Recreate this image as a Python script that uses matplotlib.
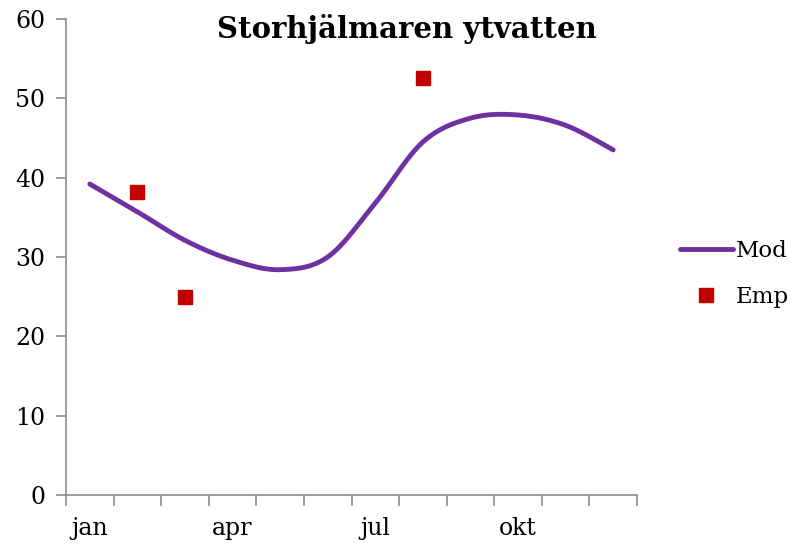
import numpy as np
import matplotlib
matplotlib.use("Agg")
import matplotlib.pyplot as plt
from matplotlib.lines import Line2D

months = ["jan", "feb", "mar", "apr", "maj", "jun", "jul", "aug", "sep", "okt", "nov", "dec"]
mod_values = [39.2, 35.7, 32.1, 29.6, 28.4, 30.0, 36.8, 44.5, 47.5, 47.9, 46.6, 43.5]
emp_months = ["feb", "mar", "aug"]
emp_values = [38.2, 25.0, 52.6]
label_months = ["jan", "apr", "jul", "okt"]
title = "Storhjälmaren ytvatten"

FONT = "DejaVu Serif"
plt.rcParams["font.family"] = FONT

def smooth(xs, ys, n=30):
    xs = np.asarray(xs, float); ys = np.asarray(ys, float)
    P = np.column_stack([xs, ys])
    out = []
    for i in range(len(P) - 1):
        p0 = P[i - 1] if i > 0 else P[i]
        p1 = P[i]; p2 = P[i + 1]
        p3 = P[i + 2] if i + 2 < len(P) else P[i + 1]
        c1 = p1 + (p2 - p0) / 6.0
        c2 = p2 - (p3 - p1) / 6.0
        t = np.linspace(0, 1, n)[:, None]
        seg = (1 - t) ** 3 * p1 + 3 * (1 - t) ** 2 * t * c1 + 3 * (1 - t) * t ** 2 * c2 + t ** 3 * p2
        out.append(seg if i == 0 else seg[1:])
    S = np.vstack(out)
    return S[:, 0], S[:, 1]

fig = plt.figure(figsize=(7.97, 5.49), dpi=100)
ax = fig.add_axes([66 / 797, 1 - 495 / 549, (637 - 66) / 797, (495 - 19) / 549])

x = np.arange(len(months))
sx, sy = smooth(x, mod_values)
ax.plot(sx, sy, color="#7030A0", lw=3.5, solid_capstyle="round")
ex = [months.index(m) for m in emp_months]
ax.plot(ex, emp_values, ls="none", marker="s", ms=9.5, color="#C00000")

ax.set_xlim(-0.5, len(months) - 0.5)
ax.set_ylim(0, 60)
ax.set_yticks(np.arange(0, 61, 10))
ax.set_xticks(np.arange(-0.5, len(months), 1.0))
ax.set_xticklabels([])
ax.set_xticks([months.index(m) for m in label_months], minor=True)
ax.set_xticklabels(label_months, minor=True)
ax.tick_params(axis="x", which="major", length=8, color="#8c8c8c", width=1.2)
ax.tick_params(axis="x", which="minor", length=0, labelsize=17, pad=16)
ax.tick_params(axis="y", length=7, color="#8c8c8c", width=1.2, labelsize=17, pad=8)

for s in ["top", "right"]:
    ax.spines[s].set_visible(False)
for s in ["left", "bottom"]:
    ax.spines[s].set_color("#8c8c8c")
    ax.spines[s].set_linewidth(1.2)

fig.text(407 / 797, 1 - 29 / 549, title, ha="center", va="center", fontsize=21, fontweight="bold")

handles = [Line2D([], [], color="#7030A0", lw=3.5, solid_capstyle="round"),
           Line2D([], [], ls="none", marker="s", ms=9.5, color="#C00000")]
fig.legend(handles, ["Mod", "Emp"], loc="center left", bbox_to_anchor=(680 / 797, 1 - 274 / 549),
           frameon=False, fontsize=16.5, handlelength=2.3, handletextpad=0.15, labelspacing=1.05,
           borderpad=0, borderaxespad=0)

fig.savefig("out.png", dpi=100)
